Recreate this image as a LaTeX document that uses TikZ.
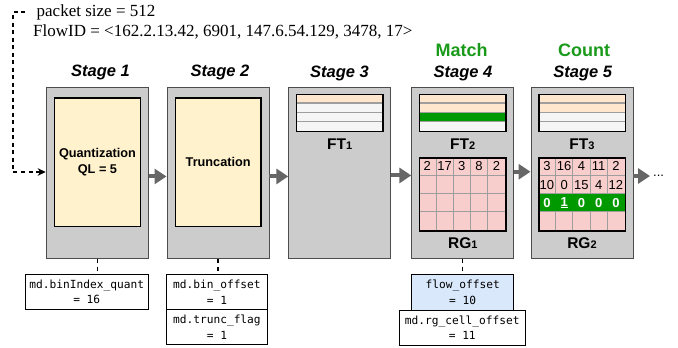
\documentclass[tikz,border=0pt]{standalone}
\usepackage{fontspec}
\setmainfont{Liberation Serif}
\setsansfont{Liberation Sans}
\setmonofont{DejaVu Sans Mono}
\usetikzlibrary{arrows.meta,calc}

\definecolor{stagefill}{HTML}{CCCCCC}
\definecolor{stageline}{HTML}{4D4D4D}
\definecolor{opfill}{HTML}{FFF2CC}
\definecolor{peach}{HTML}{FFE6CC}
\definecolor{rowgray}{HTML}{F5F5F5}
\definecolor{okgreen}{HTML}{009900}
\definecolor{pinkcell}{HTML}{F8CECC}
\definecolor{bluefill}{HTML}{DAE8FC}
\definecolor{divgray}{HTML}{9E9E9E}
\definecolor{arrowgray}{HTML}{666666}
\definecolor{headgreen}{HTML}{1A9A1A}

\newcommand{\lbldigit}[1]{{\fontsize{11}{11}\selectfont #1}}

\begin{document}
\begin{tikzpicture}[x=1pt,y=-1pt,
  stagebox/.style={draw=stageline, fill=stagefill, line width=0.9pt,
    minimum width=102pt, minimum height=171pt, inner sep=0pt, anchor=north west},
  opbox/.style={draw=black, fill=opfill, line width=1.4pt, minimum width=85.5pt,
    minimum height=128.5pt, inner sep=0pt, anchor=north west, align=center,
    font=\sffamily\bfseries\fontsize{12.7}{15.5}\selectfont},
  stagelabel/.style={font=\sffamily\bfseries\itshape\fontsize{16.5}{18}\selectfont, inner sep=0pt},
  headlabel/.style={font=\sffamily\bfseries\fontsize{18}{20}\selectfont, text=headgreen, inner sep=0pt},
  tablabel/.style={font=\sffamily\bfseries\fontsize{15.5}{17}\selectfont, inner sep=0pt},
  tabframe/.style={draw=black, line width=1.7pt, minimum width=86.3pt, minimum height=37pt,
    inner sep=0pt, anchor=north west},
  gridframe/.style={draw=black, line width=1.7pt, minimum width=86.3pt, minimum height=72.7pt,
    inner sep=0pt, anchor=north west},
  rowline/.style={draw=divgray, line width=1.1pt},
  cellline/.style={draw=divgray, line width=0.9pt},
  cellnum/.style={font=\sffamily\fontsize{13}{13}\selectfont, inner sep=0pt},
  cellbold/.style={font=\sffamily\bfseries\fontsize{13}{13}\selectfont, text=white, inner sep=0pt},
  flowarrow/.style={draw=arrowgray, line width=4pt, -{Triangle[length=12pt,width=15pt]}},
  feedline/.style={draw=black, line width=1.1pt, dash pattern=on 4pt off 3.5pt},
  mdbox/.style={draw=black, line width=0.8pt, fill=white, inner sep=0pt, anchor=north west,
    align=center, font=\ttfamily\fontsize{11.2}{15.5}\selectfont},
  pkttext/.style={font=\fontsize{17}{19}\selectfont, anchor=west, inner sep=0pt}
]
\useasboundingbox (0,0) rectangle (678,348);

% incoming packet description
\node[pkttext] (pkt) at (36.5,12) {packet size = 512};
\node[pkttext] (fid) at (33,32) {FlowID = <162.2.13.42, 6901, 147.6.54.129, 3478, 17>};

% stage headers
\node[headlabel] (hmatch) at (461.7,50) {Match};
\node[headlabel] (hcount) at (584,50) {Count};
\node[stagelabel] (l1) at (100.5,72) {Stage 1};
\node[stagelabel] (l2) at (220,72) {Stage 2};
\node[stagelabel] (l3) at (339.5,73) {Stage 3};
\node[stagelabel] (l4) at (463,73) {Stage 4};
\node[stagelabel] (l5) at (582.7,73) {Stage 5};

% pipeline stages
\node[stagebox] (s1) at (45.7,87.3) {};
\node[stagebox] (s2) at (166.5,87.3) {};
\node[stagebox] (s3) at (288.3,87.3) {};
\node[stagebox] (s4) at (411.3,87.3) {};
\node[stagebox] (s5) at (530.5,87.3) {};

% stage 1 and 2 operations
\node[opbox] (q) at (54,97.3) {Quantization\\QL = 5};
\node[opbox] (t) at (174.7,97.3) {Truncation};

% flow tables
\foreach \lx/\ca/\cb/\cc/\cd/\nm in {295.7/peach/rowgray/rowgray/rowgray/ft1,
                                     418.7/peach/peach/okgreen/rowgray/ft2,
                                     538.3/peach/peach/rowgray/rowgray/ft3}{
  \fill[\ca] (\lx,93.7) rectangle ++(86.3,9.25);
  \fill[\cb] (\lx,102.95) rectangle ++(86.3,9.25);
  \fill[\cc] (\lx,112.2) rectangle ++(86.3,9.25);
  \fill[\cd] (\lx,121.45) rectangle ++(86.3,9.25);
  \foreach \k in {1,2,3}
    \draw[rowline] (\lx,93.7+\k*9.25) -- ++(86.3,0);
  \node[tabframe] (\nm) at (\lx,93.7) {};
}
\node[tablabel] (ft1l) at (s3.center |- 0,144) {FT\lbldigit{1}};
\node[tablabel] (ft2l) at (s4.center |- 0,144) {FT\lbldigit{2}};
\node[tablabel] (ft3l) at (s5.center |- 0,144) {FT\lbldigit{3}};

% register grid of stage 4
\fill[pinkcell] (418.7,157.3) rectangle ++(86.3,72.7);
\foreach \k in {1,...,4}
  \draw[cellline] (418.7+\k*17.26,157.3) -- ++(0,72.7);
\foreach \k in {1,2,3}
  \draw[cellline] (418.7,157.3+\k*18.175) -- ++(86.3,0);
\node[gridframe] (rg1) at (418.7,157.3) {};
\foreach \v [count=\c] in {2,17,3,8,2}
  \node[cellnum] (rga\c) at (418.7+\c*17.26-8.63,166.4) {\v};
\node[tablabel] (rg1l) at (s4.center |- 0,243) {RG\lbldigit{1}};

% register grid of stage 5
\fill[pinkcell] (538.3,157.3) rectangle ++(86.3,72.7);
\foreach \k in {1,...,4}
  \draw[cellline] (538.3+\k*17.26,157.3) -- ++(0,72.7);
\fill[okgreen] (538.3,193.65) rectangle ++(86.3,18.175);
\foreach \k in {1,2,3}
  \draw[cellline] (538.3,157.3+\k*18.175) -- ++(86.3,0);
\node[gridframe] (rg2) at (538.3,157.3) {};
\foreach \v [count=\c] in {3,16,4,11,2}
  \node[cellnum] (rgb\c) at (538.3+\c*17.26-8.63,166.4) {\v};
\foreach \v [count=\c] in {10,0,15,4,12}
  \node[cellnum] (rgc\c) at (538.3+\c*17.26-8.63,184.6) {\v};
\foreach \v [count=\c] in {0,{\underline{1}},0,0,0}
  \node[cellbold] (rgd\c) at (538.3+\c*17.26-8.63,202.7) {\v};
\node[tablabel] (rg2l) at (s5.center |- 0,243) {RG\lbldigit{2}};

% packet entering the pipeline
\coordinate (in0) at (25,12);
\coordinate (in1) at (13,12);
\coordinate (in2) at (13,172);
\draw[feedline, -{Stealth[length=8pt,width=7.5pt]}] (in0) -- (in1) -- (in2) -- (in2 -| s1.west);

% flow between stages
\draw[flowarrow] ($(s1.east)+(0,3.2)$) -- ($(s2.west)+(0,3.2)$);
\draw[flowarrow] ($(s2.east)+(0,3.2)$) -- ($(s3.west)+(0,3.2)$);
\draw[flowarrow] ($(s3.east)+(0,2.2)$) -- ($(s4.west)+(0,2.2)$);
\draw[flowarrow] ($(s4.east)+(0,-1.5)$) -- ($(s5.west)+(0,-1.5)$);
\coordinate (outend) at (650,176);
\draw[flowarrow] (s5.east |- outend) -- (outend);
\node[font=\sffamily\fontsize{13}{13}\selectfont, anchor=west, inner sep=0pt] (dots) at (653,176) {...};

% metadata written by the stages
\node[mdbox, minimum width=122.7pt, minimum height=35.3pt] (b1) at (25,274) {md.binIndex\_quant\\= 16};
\node[mdbox, minimum width=100.4pt, minimum height=35.3pt] (b2) at (166.3,274) {md.bin\_offset\\= 1};
\node[mdbox, minimum width=100.4pt, minimum height=35pt] (b3) at (166.3,309.3) {md.trunc\_flag\\= 1};
\node[mdbox, fill=bluefill, minimum width=102pt, minimum height=36pt] (b4) at (411.3,274) {flow\_offset\\= 10};
\node[mdbox, minimum width=126.3pt, minimum height=35pt] (b5) at (398.7,310) {md.rg\_cell\_offset\\= 11};

\draw[feedline] (s1.south) -- (s1.south |- b1.north);
\draw[feedline] (s2.south) -- (s2.south |- b2.north);
\draw[feedline] (s4.south) -- (s4.south |- b4.north);
\end{tikzpicture}
\end{document}
